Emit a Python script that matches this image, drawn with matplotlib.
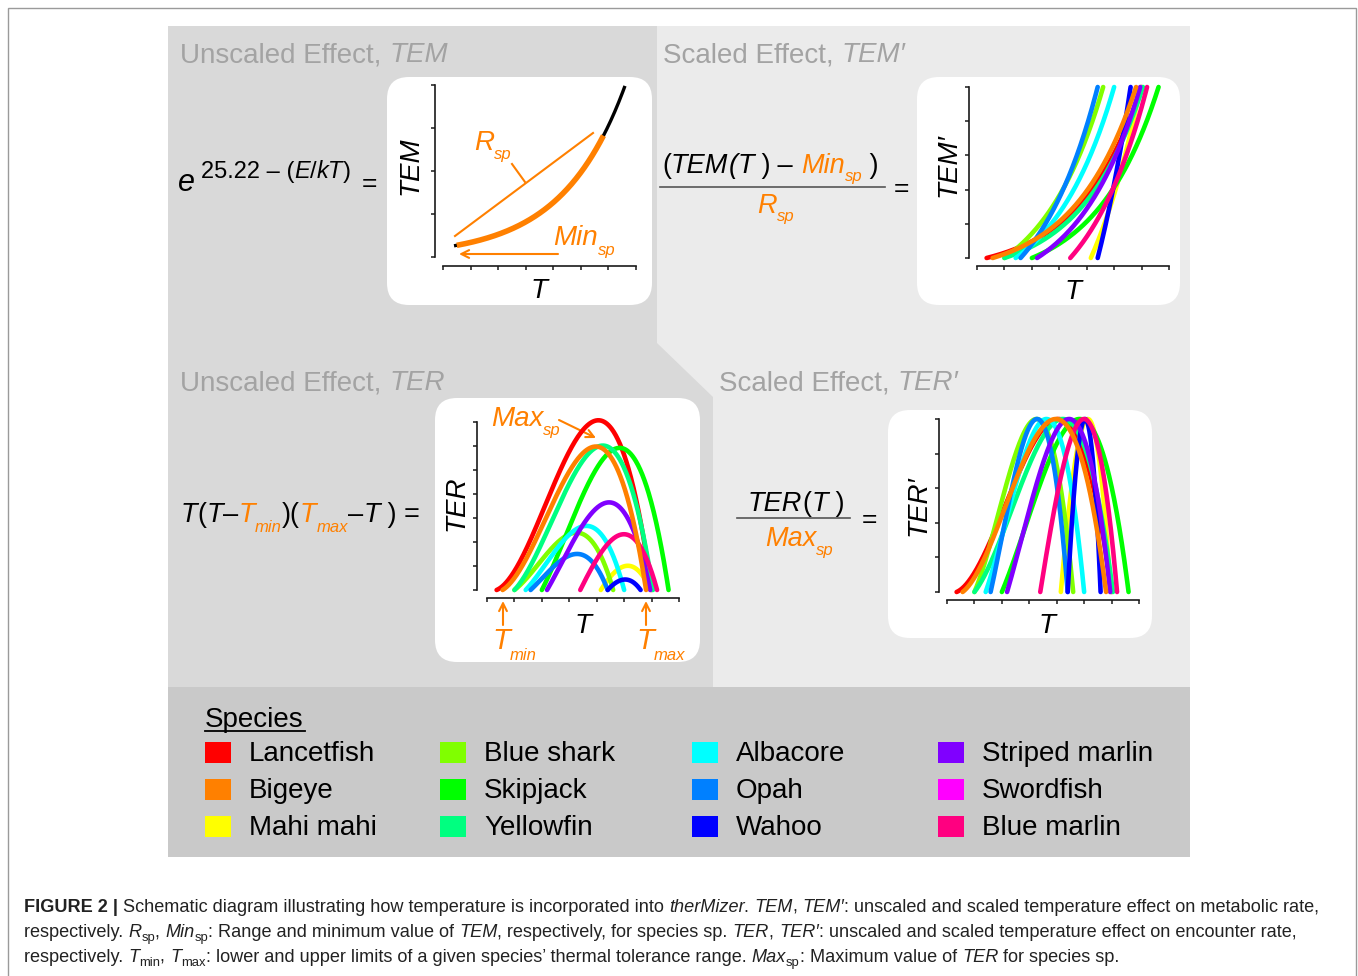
import numpy as np
import matplotlib
matplotlib.use('Agg')
import matplotlib.pyplot as plt
from matplotlib.patches import FancyBboxPatch, Polygon, Rectangle

# ---------------- data ----------------
species = ['Lancetfish', 'Bigeye', 'Mahi mahi', 'Blue shark', 'Skipjack', 'Yellowfin',
           'Albacore', 'Opah', 'Wahoo', 'Striped marlin', 'Swordfish', 'Blue marlin']
colors = ['#FF0000', '#FF8000', '#FFFF00', '#80FF00', '#00FF00', '#00FF80',
          '#00FFFF', '#0080FF', '#0000FF', '#8000FF', '#FF00FF', '#FF0080']
# thermal tolerance limits (schematic T units)
t_min = [0.35, 0.57, 4.15, 1.00, 2.00, 1.00, 1.41, 1.59, 4.40, 2.19, np.nan, 3.40]
t_max = [6.00, 5.80, 5.96, 4.60, 6.62, 6.05, 5.00, 4.40, 5.60, 5.95, np.nan, 6.20]
ter_scale = 0.242          # TER = ter_scale * T (T - Tmin)(Tmax - T)
tem_rate = 0.44            # TEM ~ exp(tem_rate * T)
# example TEM curve (top-left panel)
tem_range = (0.40, 6.60)
tem_species_range = (0.50, 5.82)
tem_y0 = 0.26

W, H = 1358, 976
plt.rcParams['font.family'] = ['Liberation Sans', 'DejaVu Sans']
fig = plt.figure(figsize=(W / 100, H / 100), dpi=100)
bg = fig.add_axes([0, 0, 1, 1])
bg.set_xlim(0, W)
bg.set_ylim(H, 0)
bg.axis('off')
renderer = fig.canvas.get_renderer()

ORANGE = '#FF8000'
GREYTXT = '#A3A3A3'

# ---------------- background ----------------
bg.add_patch(Rectangle((8, 8), 1348, 1000, fc='white', ec='#9a9a9a', lw=1.0))
bg.add_patch(Rectangle((168, 26), 1022, 661, fc='#D9D9D9', ec='none'))
bg.add_patch(Polygon([(657, 26), (1190, 26), (1190, 687), (713, 687), (713, 397), (657, 343)],
                     closed=True, fc='#EBEBEB', ec='none'))
bg.add_patch(Rectangle((168, 687), 1022, 170, fc='#C9C9C9', ec='none'))

for (x0, y0, x1, y1) in [(387, 77, 652, 305), (917, 77, 1180, 305),
                         (435, 398, 700, 662), (888, 410, 1152, 638)]:
    bg.add_patch(FancyBboxPatch((x0, y0), x1 - x0, y1 - y0,
                                boxstyle='round,pad=0,rounding_size=22',
                                fc='white', ec='none'))


def width(s, **kw):
    t = bg.text(0, 0, '|' + s + '|', **kw)
    w1 = t.get_window_extent(renderer).width
    t.remove()
    t = bg.text(0, 0, '||', **kw)
    w2 = t.get_window_extent(renderer).width
    t.remove()
    return w1 - w2


def flow(x, y, pieces, size=20, color='black'):
    for p in pieces:
        s = p[0]
        o = dict(size=size, color=color, style='normal', weight='normal', dy=0, dx=0)
        if len(p) > 1:
            o.update(p[1])
        kw = dict(fontsize=o['size'], color=o['color'], fontstyle=o['style'],
                  fontweight=o['weight'])
        x += o['dx']
        bg.text(x, y + o['dy'], s, va='baseline', ha='left', **kw)
        x += width(s, **kw)
    return x


IT = dict(style='italic')
ITO = dict(style='italic', color=ORANGE)

# ---------------- titles ----------------
flow(180, 62, [('Unscaled Effect, ',), ('TEM', IT)], color=GREYTXT)
flow(663, 62, [('Scaled Effect, ',), ('TEM\u2032', IT)], color=GREYTXT)
flow(180, 390, [('Unscaled Effect, ',), ('TER', IT)], color=GREYTXT)
flow(719, 390, [('Scaled Effect, ',), ('TER\u2032', IT)], color=GREYTXT)

# ---------------- equations ----------------
flow(178, 191, [('e', dict(style='italic', size=22))])
flow(201, 178, [('25.22 \u2013 (',), ('E', IT), ('/',), ('kT', IT), (')',)], size=17)
bg.text(369, 191, '=', fontsize=19, ha='center', va='baseline')

flow(662, 173, [('(',), ('TEM', IT), ('(', IT), ('T', IT), (' )',), (' \u2013 ',),
                ('Min', ITO), ('sp', dict(style='italic', color=ORANGE, size=12, dy=8)),
                (' )',)], size=19.5)
bg.plot([660, 885], [187, 187], color='#555555', lw=1.2)
flow(757, 213, [('R', ITO), ('sp', dict(style='italic', color=ORANGE, size=12, dy=8))], size=19.5)
bg.text(901, 196, '=', fontsize=19, ha='center', va='baseline')

flow(181, 522, [('T', IT), ('(',), ('T', IT), ('\u2013',), ('T', ITO),
                ('min', dict(style='italic', color=ORANGE, size=12, dy=10)),
                (')(',), ('T', ITO),
                ('max', dict(style='italic', color=ORANGE, size=12, dy=10)),
                ('\u2013',), ('T', IT), (' ) =',)], size=19.5)

flow(748, 511, [('TER', IT), ('(',), ('T', IT), (' )',)], size=19.5)
bg.plot([737, 850], [518, 518], color='#555555', lw=1.2)
flow(765, 546, [('Max', ITO), ('sp', dict(style='italic', color=ORANGE, size=12, dy=9))], size=19.5)
bg.text(869, 527, '=', fontsize=19, ha='center', va='baseline')


# ---------------- mini axes ----------------
def add_ax(x0, x1, yt, yb, ylim, yticks, offl, offb):
    ax = fig.add_axes([x0 / W, 1 - yb / H, (x1 - x0) / W, (yb - yt) / H])
    ax.set_xlim(0, 7)
    ax.set_ylim(*ylim)
    ax.patch.set_visible(False)
    for s in ['top', 'right']:
        ax.spines[s].set_visible(False)
    ax.spines['left'].set_position(('outward', offl * 0.72))
    ax.spines['bottom'].set_position(('outward', offb * 0.72))
    ax.spines['left'].set_bounds(*ylim)
    ax.spines['bottom'].set_bounds(0, 7)
    for s in ['left', 'bottom']:
        ax.spines[s].set_linewidth(1.2)
        ax.spines[s].set_color('#1a1a1a')
    ax.set_xticks(range(8))
    ax.set_yticks(yticks)
    ax.tick_params(direction='out', length=3, width=1.1, color='#1a1a1a',
                   labelleft=False, labelbottom=False)
    return ax


ax_tem = add_ax(443, 636, 85, 257, (0, 4), range(5), 8, 9)
ax_temp = add_ax(977, 1169, 87, 258, (0, 1), np.linspace(0, 1, 6), 8, 8)
ax_ter = add_ax(487, 679, 422, 590, (0, 7), range(8), 10, 8)
ax_terp = add_ax(947, 1139, 419, 592, (0, 1), np.linspace(0, 1, 6), 8, 8)

# TEM example
xx = np.linspace(*tem_range, 300)
ax_tem.plot(xx, tem_y0 * np.exp(tem_rate * (xx - tem_range[0])), color='black', lw=2.4,
            clip_on=False, solid_capstyle='butt')
xo = np.linspace(*tem_species_range, 300)
ax_tem.plot(xo, tem_y0 * np.exp(tem_rate * (xo - tem_range[0])), color=ORANGE, lw=4.0,
            clip_on=False, solid_capstyle='butt')

order = [i for i in range(len(species)) if i != 1] + [1]
for i in order:
    a, b = t_min[i], t_max[i]
    if np.isnan(a):
        continue
    x = np.linspace(a, b, 300)
    ter = ter_scale * x * (x - a) * (b - x)
    tem = (np.exp(tem_rate * x) - np.exp(tem_rate * a)) / (np.exp(tem_rate * b) - np.exp(tem_rate * a))
    kw = dict(color=colors[i], lw=3.3, clip_on=False, solid_capstyle='round')
    ax_ter.plot(x, ter, **kw)
    ax_terp.plot(x, ter / ter.max(), **kw)
    ax_temp.plot(x, tem, **kw)

# annotations in TEM panel (pixel coords)
bg.plot([455, 593], [236, 133], color=ORANGE, lw=1.5)
bg.plot([525, 512], [182, 164], color=ORANGE, lw=1.5)
flow(474, 150, [('R', ITO), ('sp', dict(style='italic', color=ORANGE, size=12, dy=9))], size=20)
flow(553, 245, [('Min', ITO), ('sp', dict(style='italic', color=ORANGE, size=12, dy=10))], size=20)
bg.annotate('', xy=(459, 254), xytext=(558, 254),
            arrowprops=dict(arrowstyle='->', color=ORANGE, lw=1.5, mutation_scale=14,
                            shrinkA=0, shrinkB=0))

# annotations in TER panel
flow(491, 426, [('Max', ITO), ('sp', dict(style='italic', color=ORANGE, size=12, dy=9))], size=20)
bg.annotate('', xy=(596, 438), xytext=(559, 420),
            arrowprops=dict(arrowstyle='->', color=ORANGE, lw=1.5, mutation_scale=14,
                            shrinkA=0, shrinkB=0))
for xa in (503, 646):
    bg.annotate('', xy=(xa, 601), xytext=(xa, 625),
                arrowprops=dict(arrowstyle='->', color=ORANGE, lw=1.5, mutation_scale=14,
                                shrinkA=0, shrinkB=0))
flow(492, 649, [('T', ITO), ('min', dict(style='italic', color=ORANGE, size=12, dy=11))], size=21)
flow(636, 649, [('T', ITO), ('max', dict(style='italic', color=ORANGE, size=12, dy=11))], size=21)

# axis labels
for (xc, yc, s) in [(411, 166, 'TEM'), (948, 165, 'TEM\u2032'), (456, 503, 'TER'), (918, 506, 'TER\u2032')]:
    bg.text(xc, yc, s, rotation=90, fontsize=20, fontstyle='italic', ha='center', va='center')
for (xc, yc) in [(539, 291), (1073, 292), (583, 626), (1047, 626)]:
    bg.text(xc, yc, 'T', fontsize=20, fontstyle='italic', ha='center', va='center')

# ---------------- legend ----------------
bg.text(205, 727, 'Species', fontsize=20, va='baseline', ha='left')
bg.plot([205, 305], [731, 731], color='black', lw=1.3)
col_x = [205, 440, 692, 938]
row_y = [742, 779, 816]
for i, name in enumerate(species):
    c, r = divmod(i, 3)
    bg.add_patch(Rectangle((col_x[c], row_y[r]), 26, 21, fc=colors[i], ec='none'))
    bg.text(col_x[c] + 44, row_y[r] + 12, name, fontsize=20, va='center', ha='left')

# ---------------- caption ----------------
line1 = [('FIGURE 2 | ', dict(weight='bold')),
         ('Schematic diagram illustrating how temperature is incorporated into ',),
         ('therMizer', IT), ('. ',), ('TEM', IT), (', ',), ('TEM\u2032', IT),
         (': unscaled and scaled temperature effect on metabolic rate,',)]
base = 12
tot = 0
for p in line1:
    o = dict(weight='normal', style='normal')
    if len(p) > 1:
        o.update(p[1])
    tot += width(p[0], fontsize=base, fontweight=o['weight'], fontstyle=o['style'])
cs = base * 1298 / tot
SUB = dict(size=cs * 0.72, dy=4)
flow(24, 912, line1, size=cs, color='#222222')
flow(24, 937, [('respectively. ',), ('R', IT), ('sp', SUB), (', ',), ('Min', IT), ('sp', SUB),
               (': Range and minimum value of ',), ('TEM', IT),
               (', respectively, for species sp. ',), ('TER', IT), (', ',), ('TER\u2032', IT),
               (': unscaled and scaled temperature effect on encounter rate,',)],
     size=cs, color='#222222')
flow(24, 962, [('respectively. ',), ('T', IT), ('min', SUB), (', ',), ('T', IT), ('max', SUB),
               (': lower and upper limits of a given species\u2019 thermal tolerance range. ',),
               ('Max', IT), ('sp', SUB), (': Maximum value of ',), ('TER', IT),
               (' for species sp.',)], size=cs, color='#222222')

fig.savefig('out.png', dpi=100)
